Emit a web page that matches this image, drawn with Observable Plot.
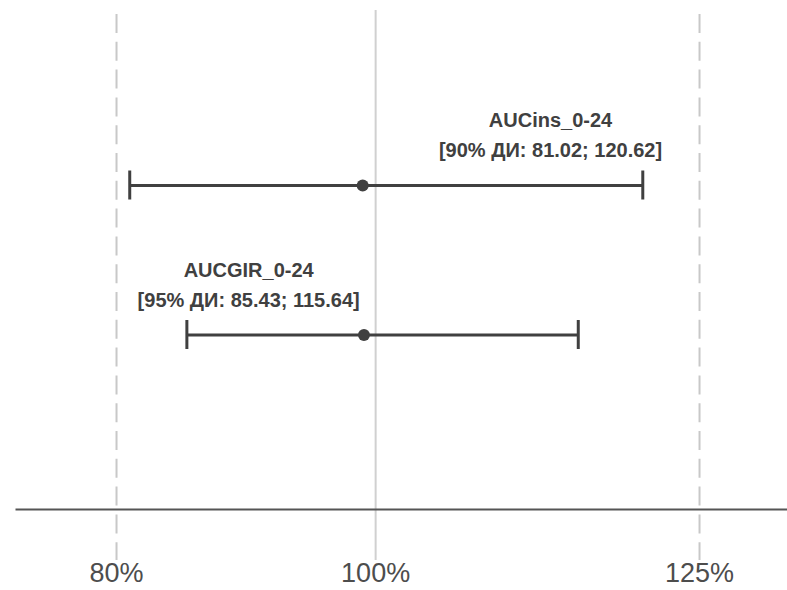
<!DOCTYPE html>
<html><head><meta charset="utf-8">
<script src="https://cdn.jsdelivr.net/npm/d3@7"></script>
<script src="https://cdn.jsdelivr.net/npm/@observablehq/plot@0.6"></script>
<style>html,body{margin:0;padding:0;background:#fff} #chart svg{display:block}</style>
</head><body><div id="chart"></div>
<script>
// data
const params = ["AUCins_0-24", "AUCGIR_0-24"];
const rowPos = [2, 1];
const estimates = [99.0, 99.1];
const lower = [81.02, 85.43];
const upper = [120.62, 115.64];
const ciLevel = ["90%", "95%"];
const labelAt = [113.5, 90.2];
const refLines = [80, 125];
const centerLine = [100];
const ticks = [80, 100, 125];
const tickLabels = ["80%", "100%", "125%"];

const rows = params.map((p, i) => ({
  param: p,
  row: rowPos[i],
  est: estimates[i],
  lo: lower[i],
  hi: upper[i],
  lx: labelAt[i],
  label: `${p}\n[${ciLevel[i]} ДИ: ${lower[i].toFixed(2)}; ${upper[i].toFixed(2)}]`
}));

const ink = "#404040";
const plot = Plot.plot({
  width: 787, height: 590,
  marginLeft: 16, marginRight: 0, marginTop: 10, marginBottom: 81,
  x: {domain: [72.28, 131.79], axis: null},
  y: {domain: [-0.1672, 3.1706], axis: null},
  style: {background: "#fff", fontFamily: "'Liberation Sans', Arial, sans-serif"},
  marks: [
    Plot.ruleX(refLines, {stroke: "#c8c8c8", strokeWidth: 2, strokeDasharray: "19,8.8", insetTop: 4, insetBottom: -51}),
    Plot.ruleX(centerLine, {stroke: "#d0d0d0", strokeWidth: 2, insetBottom: -51}),
    Plot.frame({anchor: "bottom", stroke: "#555555", strokeWidth: 2}),
    Plot.axisX(ticks, {tickSize: 0, tickPadding: 53, tickFormat: d => tickLabels[ticks.indexOf(d)], fontSize: 27, fill: "#4d4d4d", label: null}),
    Plot.ruleY(rows, {x1: "lo", x2: "hi", y: "row", stroke: ink, strokeWidth: 3}),
    Plot.ruleX(rows, {x: "lo", y1: "row", y2: "row", insetTop: -14.5, insetBottom: -14.5, stroke: ink, strokeWidth: 3}),
    Plot.ruleX(rows, {x: "hi", y1: "row", y2: "row", insetTop: -14.5, insetBottom: -14.5, stroke: ink, strokeWidth: 3}),
    Plot.dot(rows, {x: "est", y: "row", r: 6, fill: ink, stroke: "none"}),
    Plot.text(rows, {x: "lx", y: "row", text: "label", lineAnchor: "bottom", dy: -28.5, lineHeight: 1.5, fontSize: 20, fontWeight: "bold", fill: ink})
  ]
});
document.getElementById("chart").appendChild(plot);
</script>
</body></html>
